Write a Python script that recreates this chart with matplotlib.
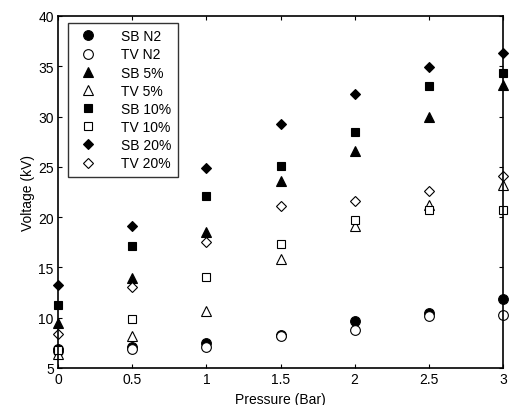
import numpy as np
from matplotlib import pyplot as plt

plt.rcParams['font.family'] = ['Liberation Sans', 'DejaVu Sans']

# Data
pressure = [0, 0.5, 1, 1.5, 2, 2.5, 3]
sb_n2 = [6.9, 7.05, 7.5, 8.3, 9.65, 10.5, 11.9]
tv_n2 = [6.7, 6.9, 7.1, 8.2, 8.8, 10.15, 10.25]
sb_5 = [9.5, 13.9, 18.5, 23.55, 26.6, 30.0, 33.1]
tv_5 = [6.4, 8.2, 10.7, 15.8, 19.1, 21.2, 23.2]
sb_10 = [11.3, 17.1, 22.1, 25.1, 28.5, 33.05, 34.3]
tv_10 = [6.8, 9.9, 14.05, 17.3, 19.7, 20.7, 20.7]
sb_20 = [13.3, 19.1, 24.9, 29.25, 32.2, 34.9, 36.3]
tv_20 = [8.35, 13.1, 17.55, 21.1, 21.6, 22.6, 24.1]

series = [
    ("SB N2", sb_n2, 'o', 'k', 7),
    ("TV N2", tv_n2, 'o', 'w', 7),
    ("SB 5%", sb_5, '^', 'k', 7),
    ("TV 5%", tv_5, '^', 'w', 7),
    ("SB 10%", sb_10, 's', 'k', 6.3),
    ("TV 10%", tv_10, 's', 'w', 6.3),
    ("SB 20%", sb_20, 'D', 'k', 5.6),
    ("TV 20%", tv_20, 'D', 'w', 5.6),
]

fig = plt.figure(figsize=(5.12, 4.06), dpi=100)
ax = fig.add_axes([58/512, 37/406, 445/512, 352/406])

for name, vals, m, fc, ms in series:
    ax.plot(pressure, vals, linestyle='none', marker=m, markersize=ms,
            markerfacecolor=fc, markeredgecolor='k', markeredgewidth=0.8,
            label=name, clip_on=False)

ax.set_xlim(0, 3)
ax.set_ylim(5, 40)
ax.set_xticks([0, 0.5, 1, 1.5, 2, 2.5, 3])
ax.set_xticklabels(['0', '0.5', '1', '1.5', '2', '2.5', '3'])
ax.set_yticks(np.arange(5, 41, 5))
ax.tick_params(direction='in', length=3, width=0.8, top=True, right=True,
               labelsize=10, pad=3)
for s in ax.spines.values():
    s.set_linewidth(1.2)

ax.set_xlabel("Pressure (Bar)", fontsize=10, labelpad=4)
ax.set_ylabel("Voltage (kV)", fontsize=10, labelpad=2)

leg = ax.legend(loc='upper left', bbox_to_anchor=(0.022, 0.98), fontsize=10,
                numpoints=1, frameon=True, fancybox=False, edgecolor='k',
                handlelength=2.0, handletextpad=1.4, labelspacing=0.3,
                borderpad=0.45, borderaxespad=0)
leg.get_frame().set_linewidth(1.0)

fig.savefig("out.png", dpi=100)
